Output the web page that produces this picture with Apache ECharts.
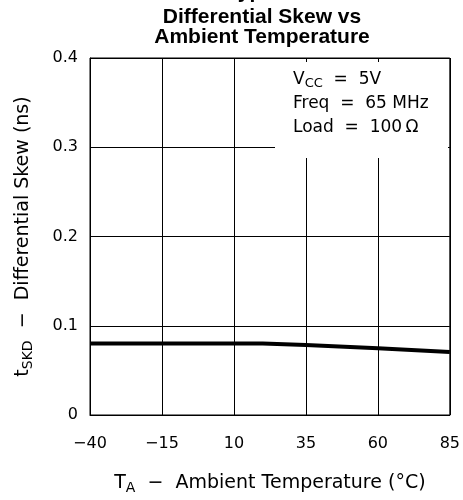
<!DOCTYPE html>
<html>
<head>
<meta charset="utf-8">
<script src="https://cdn.jsdelivr.net/npm/echarts@6/dist/echarts.min.js"></script>
<style>
html,body{margin:0;padding:0;background:#fff;}
#c{width:463px;height:500px;}
</style>
</head>
<body>
<div id="c"></div>
<script>
// Data
var temps = [-40, 20, 35, 60, 85];
var skew = [0.0802, 0.0802, 0.0785, 0.0748, 0.0705];
var xTicks = [-40, -15, 10, 35, 60, 85];
var yTicks = [0, 0.1, 0.2, 0.3, 0.4];
var titleTop = 'Typical';
var titleLines = ['Differential Skew vs', 'Ambient Temperature'];
var noteLines = ['{n|V}{s|CC}{n|  =  5V}', '{n|Freq  =  65 MHz}', '{n|Load  =  100\u2009\u03A9}'];

var FONT = 'DejaVu Sans';
var chart = echarts.init(document.getElementById('c'), null, {renderer: 'canvas'});

var option = {
  animation: false,
  backgroundColor: '#fff',
  grid: {left: 90, right: 12, top: 58, bottom: 83, show: true, borderColor: '#000', borderWidth: 1, backgroundColor: 'transparent'},
  xAxis: {
    type: 'value',
    min: xTicks[0], max: xTicks[xTicks.length - 1], interval: 25,
    axisLine: {show: true, onZero: false, lineStyle: {color: '#000', width: 1}},
    axisTick: {show: false},
    splitLine: {show: true, lineStyle: {color: '#000', width: 1}},
    axisLabel: {color: '#000', fontFamily: FONT, fontSize: 16, margin: 21,
      formatter: function (v) { return String(v).replace('-', '\u2212'); }},
    name: '{n|T}{s|A}{n|  \u2212  Ambient Temperature (\u00B0C)}',
    nameLocation: 'middle', nameGap: 56,
    nameTextStyle: {
      rich: {
        n: {fontFamily: FONT, fontSize: 19, color: '#000'},
        s: {fontFamily: FONT, fontSize: 14, color: '#000', padding: [10, 0, 0, 0]}
      }
    }
  },
  yAxis: {
    type: 'value',
    min: yTicks[0], max: yTicks[yTicks.length - 1], interval: 0.1,
    axisLine: {show: true, onZero: false, lineStyle: {color: '#000', width: 1}},
    axisTick: {show: false},
    splitLine: {show: true, lineStyle: {color: '#000', width: 1}},
    axisLabel: {color: '#000', fontFamily: FONT, fontSize: 16, margin: 12,
      formatter: function (v) { return v === 0 ? '0' : v.toFixed(1); }},
    name: '{n|t}{s|SKD}{n|  \u2212  Differential Skew (ns)}',
    nameLocation: 'middle', nameGap: 55, nameRotate: 90,
    nameTextStyle: {
      rich: {
        n: {fontFamily: FONT, fontSize: 19, color: '#000'},
        s: {fontFamily: FONT, fontSize: 14, color: '#000', padding: [10, 0, 0, 0]}
      }
    }
  },
  graphic: [
    {type: 'rect', shape: {x: 275, y: 62, width: 173, height: 96}, style: {fill: '#fff'}, z: 50, silent: true},
    {type: 'text', x: 293, y: 68, z: 60, style: {
      text: noteLines.join('\n'),
      rich: {
        n: {fontFamily: FONT, fontSize: 17, fill: '#000', lineHeight: 24},
        s: {fontFamily: FONT, fontSize: 13, fill: '#000', padding: [8, 0, 0, 0], lineHeight: 24}
      }
    }},
    {type: 'text', x: 262, y: -18, z: 60, style: {
      text: titleTop, textAlign: 'center',
      font: 'bold 21px "Liberation Sans", Arial, sans-serif', lineHeight: 20, fill: '#000'
    }},
    {type: 'text', x: 262, y: 7, z: 60, style: {
      text: titleLines.join('\n'), textAlign: 'center',
      font: 'bold 21px "Liberation Sans", Arial, sans-serif', lineHeight: 20, fill: '#000'
    }}
  ],
  series: [{
    type: 'line',
    data: temps.map(function (t, i) { return [t, skew[i]]; }),
    showSymbol: false,
    lineStyle: {color: '#000', width: 4},
    z: 10
  }]
};
chart.setOption(option);
</script>
</body>
</html>
